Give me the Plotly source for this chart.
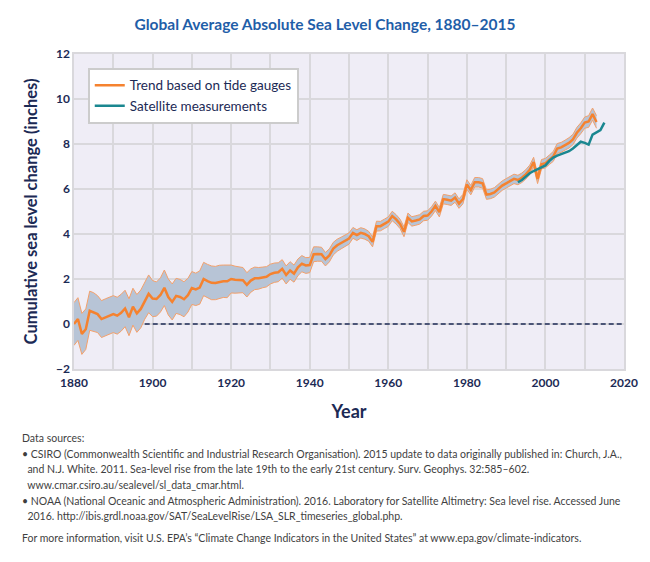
import plotly.graph_objects as go

# Tide gauge trend (CSIRO), inches, annual 1880-2013
years = list(range(1880, 2014))
tide_gauge = [
    0.00, 0.22, -0.44, -0.23, 0.59, 0.53, 0.44, 0.22, 0.30, 0.36,
    0.44, 0.37, 0.50, 0.69, 0.30, 0.77, 0.47, 0.67, 1.04, 1.34,
    1.13, 1.11, 1.29, 1.61, 1.20, 0.98, 1.25, 1.20, 1.10, 1.28,
    1.60, 1.54, 1.62, 2.00, 1.91, 1.83, 1.82, 1.87, 1.90, 1.90,
    2.00, 1.97, 1.97, 1.95, 1.74, 1.93, 2.03, 2.03, 2.07, 2.10,
    2.22, 2.28, 2.30, 2.45, 2.18, 2.38, 2.24, 2.52, 2.68, 2.60,
    2.62, 3.10, 3.11, 3.10, 2.88, 3.05, 3.35, 3.50, 3.60, 3.70,
    3.80, 4.05, 3.95, 4.05, 4.00, 3.90, 3.65, 4.35, 4.35, 4.45,
    4.55, 4.80, 4.65, 4.45, 4.10, 4.72, 4.56, 4.60, 4.65, 4.80,
    4.82, 5.00, 5.25, 4.97, 5.55, 5.52, 5.48, 5.62, 5.35, 5.55,
    6.20, 5.95, 6.30, 6.30, 6.25, 5.75, 5.78, 5.85, 6.00, 6.15,
    6.25, 6.35, 6.45, 6.40, 6.50, 6.65, 6.85, 7.20, 6.45, 7.10,
    7.15, 7.30, 7.45, 7.80, 7.85, 7.95, 8.05, 8.20, 8.50, 8.70,
    8.95, 9.00, 9.33, 8.98,
]
# half-width of the uncertainty band, inches
tide_error = [
    0.95, 0.95, 0.91, 0.90, 0.87, 0.86, 0.82, 0.82, 0.82, 0.82,
    0.82, 0.82, 0.82, 0.81, 0.82, 0.82, 0.84, 0.84, 0.83, 0.84,
    0.80, 0.76, 0.76, 0.79, 0.80, 0.80, 0.78, 0.78, 0.78, 0.75,
    0.73, 0.72, 0.74, 0.74, 0.74, 0.75, 0.74, 0.74, 0.72, 0.73,
    0.62, 0.60, 0.58, 0.56, 0.54, 0.52, 0.50, 0.48, 0.46, 0.45,
    0.44, 0.43, 0.42, 0.41, 0.40, 0.39, 0.38, 0.37, 0.36, 0.35,
    0.34, 0.33, 0.32, 0.31, 0.30, 0.29, 0.28, 0.27, 0.26, 0.25,
    0.25, 0.24, 0.24, 0.23, 0.23, 0.22, 0.22, 0.22, 0.21, 0.21,
    0.21, 0.21, 0.21, 0.21, 0.22, 0.21, 0.21, 0.21, 0.21, 0.21,
    0.21, 0.21, 0.21, 0.21, 0.21, 0.21, 0.21, 0.21, 0.21, 0.21,
    0.21, 0.21, 0.21, 0.21, 0.21, 0.21, 0.21, 0.21, 0.21, 0.21,
    0.21, 0.21, 0.21, 0.21, 0.21, 0.21, 0.21, 0.21, 0.21, 0.21,
    0.21, 0.21, 0.22, 0.22, 0.22, 0.22, 0.23, 0.23, 0.24, 0.24,
    0.25, 0.26, 0.27, 0.28,
]

# Satellite measurements (NOAA), inches, annual 1993-2015
sat_years = list(range(1993, 2016))
satellite = [
    6.30, 6.40, 6.55, 6.70, 6.80, 6.88, 6.95, 7.05, 7.25, 7.40,
    7.48, 7.55, 7.62, 7.68, 7.80, 7.95, 8.10, 8.05, 7.97, 8.42,
    8.52, 8.62, 8.95,
]

x_tick_vals = list(range(1880, 2021, 10))
x_tick_text = ["1880", "", "1900", "", "1920", "", "1940", "", "1960", "",
               "1980", "", "2000", "", "2020"]
y_tick_vals = [-2, 0, 2, 4, 6, 8, 10, 12]
zero_line_start = 1898

footnotes = [
    "Data sources:",
    "• CSIRO (Commonwealth Scientific and Industrial Research Organisation). 2015 update to data originally published in: Church, J.A.,",
    "  and N.J. White. 2011. Sea-level rise from the late 19th to the early 21st century. Surv. Geophys. 32:585–602.",
    "  www.cmar.csiro.au/sealevel/sl_data_cmar.html.",
    "• NOAA (National Oceanic and Atmospheric Administration). 2016. Laboratory for Satellite Altimetry: Sea level rise. Accessed June",
    "  2016. http://ibis.grdl.noaa.gov/SAT/SeaLevelRise/LSA_SLR_timeseries_global.php.",
    "For more information, visit U.S. EPA’s “Climate Change Indicators in the United States” at www.epa.gov/climate-indicators.",
]
footnote_y = [438, 454, 469, 485, 501, 516, 538]

NAVY = "#1c2a55"
ORANGE = "#f5822f"
TEAL = "#1a8790"
BAND = "#b7c4d6"
FONT = "Lato, 'Open Sans', sans-serif"

upper = [v + e for v, e in zip(tide_gauge, tide_error)]
lower = [v - e for v, e in zip(tide_gauge, tide_error)]

fig = go.Figure()

# uncertainty band (upper edge, then lower edge filled up to it)
fig.add_trace(go.Scatter(x=years, y=upper, mode="lines",
                         line=dict(color="#f4a06a", width=1),
                         showlegend=False, hoverinfo="skip"))
fig.add_trace(go.Scatter(x=years, y=lower, mode="lines",
                         line=dict(color="#f4a06a", width=1),
                         fill="tonexty", fillcolor=BAND,
                         showlegend=False, hoverinfo="skip"))

fig.add_trace(go.Scatter(x=years, y=tide_gauge, mode="lines",
                         name="Trend based on tide gauges",
                         line=dict(color=ORANGE, width=2.5)))
fig.add_trace(go.Scatter(x=sat_years, y=satellite, mode="lines",
                         name="Satellite measurements",
                         line=dict(color=TEAL, width=2.5)))

# dashed zero line
fig.add_shape(type="line", xref="x", yref="y",
              x0=zero_line_start, x1=2020, y0=0, y1=0,
              line=dict(color=NAVY, width=1.5, dash="5px,3px"))

# footnotes, one annotation per line (page has an 8px body margin)
for txt, py in zip(footnotes, footnote_y):
    fig.add_annotation(text=txt, xref="paper", yref="paper",
                       x=(20 - 74) / 550, y=(369 - py) / 315,
                       xanchor="left", yanchor="middle", showarrow=False,
                       font=dict(family=FONT, size=10.5, color="#3f3f3f"))

fig.update_layout(
    width=650, height=562,
    margin=dict(l=66, r=34, t=46, b=201),
    paper_bgcolor="white",
    plot_bgcolor="#efedf6",
    font=dict(family=FONT, color=NAVY),
    title=dict(text="Global Average Absolute Sea Level Change, 1880–2015",
               x=(325 - 8) / 650, xanchor="center", y=1 - 17 / 562, yanchor="middle",
               font=dict(family=FONT, size=15.5, color="#1f5ea8", weight="bold")),
    legend=dict(x=0.025, y=0.956, xanchor="left", yanchor="top",
                bgcolor="white", bordercolor="#cccccc", borderwidth=2,
                traceorder="normal",
                font=dict(family=FONT, size=13.5, color=NAVY)),
    showlegend=True,
)

fig.update_xaxes(
    range=[1880, 2020], tickvals=x_tick_vals, ticktext=x_tick_text,
    showgrid=True, gridcolor="#d9d8dc", gridwidth=1.5,
    showline=True, linecolor="#d9d8dc", linewidth=1.5, mirror=True,
    zeroline=False, ticks="", ticklabelstandoff=2,
    tickfont=dict(family=FONT, size=12, color=NAVY, weight="bold"),
    title=dict(text="Year", standoff=16,
               font=dict(family=FONT, size=18, color=NAVY, weight="bold")),
)
fig.update_yaxes(
    range=[-2, 12], tickvals=y_tick_vals,
    showgrid=True, gridcolor="#d9d8dc", gridwidth=1.5,
    showline=True, linecolor="#d9d8dc", linewidth=1.5, mirror=True,
    zeroline=False, ticks="",
    tickfont=dict(family=FONT, size=12, color=NAVY, weight="bold"),
    title=dict(text="Cumulative sea level change (inches)", standoff=14,
               font=dict(family=FONT, size=16.5, color=NAVY, weight="bold")),
)

fig.write_html("out.html")
